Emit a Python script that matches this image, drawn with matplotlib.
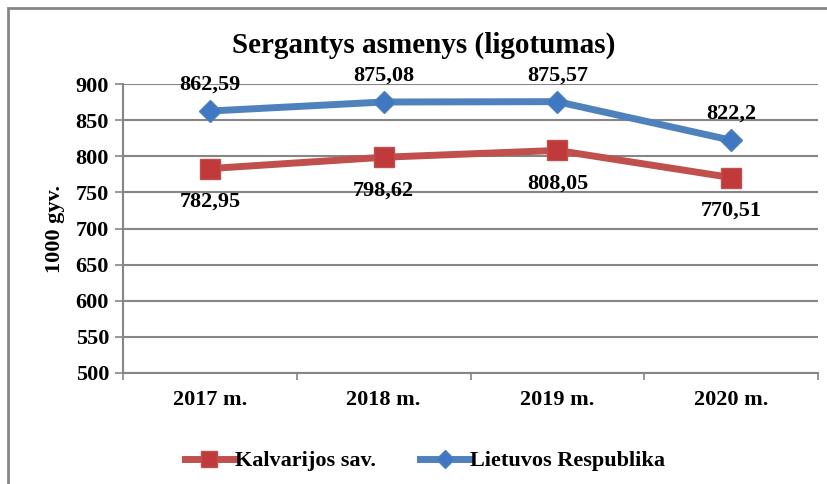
import matplotlib.pyplot as plt
import matplotlib.patches as mpatches
import numpy as np

plt.rcParams['font.family'] = ['Liberation Serif', 'DejaVu Serif']
plt.rcParams['font.weight'] = 'bold'
plt.rcParams['axes.labelweight'] = 'bold'

metai = ['2017 m.', '2018 m.', '2019 m.', '2020 m.']
kalvarija = [782.95, 798.62, 808.05, 770.51]
lietuva = [862.59, 875.08, 875.57, 822.2]
kalv_lbl = ['782,95', '798,62', '808,05', '770,51']
liet_lbl = ['862,59', '875,08', '875,57', '822,2']

raudona = '#C0504D'
melyna = '#4F81BD'
pilka = '#868686'

fig = plt.figure(figsize=(8.27, 4.84), dpi=100)
# remelis aplink diagrama
fig.patches.append(mpatches.Rectangle((8/827, -0.1), 1.1, 1 - 8/484 + 0.1,
                                      transform=fig.transFigure, fill=False,
                                      edgecolor=pilka, linewidth=2))

ax = fig.add_axes([123/827, 1 - 373/484, (818 - 123)/827, (373 - 84)/484])
x = np.arange(len(metai))

ax.plot(x, kalvarija, color=raudona, lw=5, marker='s', ms=15,
        mfc='#C0393B', mec=raudona, label='Kalvarijos sav.', zorder=3)
ax.plot(x, lietuva, color=melyna, lw=5, marker='D', ms=11,
        mfc='#3F78C0', mec=melyna, label='Lietuvos Respublika', zorder=3)

for i in range(len(metai)):
    ax.annotate(liet_lbl[i], (x[i], lietuva[i]), xytext=(0, 19),
                textcoords='offset points', ha='center', va='center', fontsize=16)
    ax.annotate(kalv_lbl[i], (x[i], kalvarija[i]), xytext=(0, -24),
                textcoords='offset points', ha='center', va='center', fontsize=16)

ax.set_xlim(-0.5, 3.5)
ax.set_ylim(500, 900)
ax.set_yticks(np.arange(500, 901, 50))
ax.set_xticks(x)
ax.set_xticklabels(metai)
ax.set_xticks(np.arange(-0.5, 3.6, 1), minor=True)
ax.tick_params(axis='x', which='major', length=0, pad=12, labelsize=16)
ax.tick_params(axis='x', which='minor', length=5, color=pilka, width=1.2)
ax.tick_params(axis='y', length=6, color=pilka, width=1.2, labelsize=16, pad=4)
ax.grid(axis='y', color=pilka, lw=1.5)
ax.set_axisbelow(True)
for s in ['top', 'right']:
    ax.spines[s].set_visible(False)
for s in ['left', 'bottom']:
    ax.spines[s].set_color(pilka)
    ax.spines[s].set_linewidth(1.5)

ax.set_ylabel('1000 gyv.', fontsize=16, labelpad=8)
fig.text(424/827, 1 - 45/484, 'Sergantys asmenys (ligotumas)', ha='center',
         va='center', fontsize=21)
ax.legend(loc='center', bbox_to_anchor=(425/827, 1 - 461/484),
          bbox_transform=fig.transFigure, ncol=2, frameon=False, fontsize=16,
          handlelength=2.2, handletextpad=0.05, columnspacing=2.0,
          markerscale=0.8)

plt.savefig('out.png')
